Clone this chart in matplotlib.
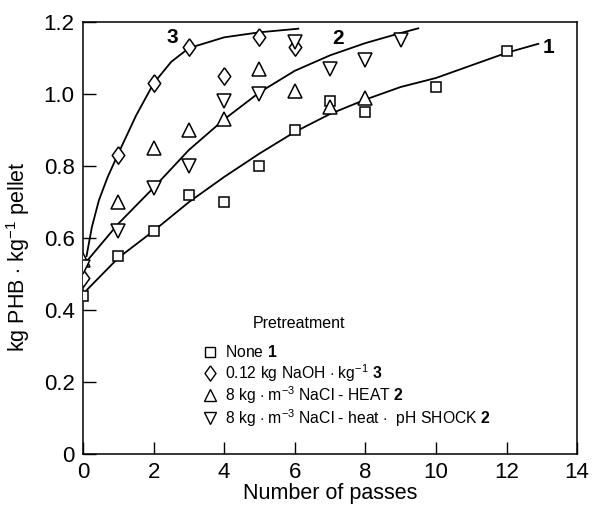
import matplotlib
matplotlib.use('Agg')
import matplotlib.pyplot as plt

plt.rcParams['font.family'] = ['Liberation Sans', 'DejaVu Sans']
plt.rcParams['mathtext.fontset'] = 'custom'
plt.rcParams['mathtext.rm'] = 'Liberation Sans'
plt.rcParams['mathtext.bf'] = 'Liberation Sans:bold'

# measured points
x_none = [0, 1, 2, 3, 4, 5, 6, 7, 8, 10, 12]
y_none = [0.44, 0.55, 0.62, 0.72, 0.70, 0.80, 0.90, 0.98, 0.95, 1.02, 1.12]

x_naoh = [0, 1, 2, 3, 4, 5, 6]
y_naoh = [0.49, 0.83, 1.03, 1.13, 1.05, 1.16, 1.13]

x_heat = [0, 1, 2, 3, 4, 5, 6, 7, 8]
y_heat = [0.54, 0.70, 0.85, 0.90, 0.93, 1.07, 1.01, 0.965, 0.99]

x_shock = [0, 1, 2, 3, 4, 5, 6, 7, 8, 9]
y_shock = [0.52, 0.62, 0.74, 0.80, 0.98, 1.00, 1.145, 1.07, 1.095, 1.15]

# fitted curves
cx1 = [0.1, 1, 2, 3, 4, 5, 6, 7, 8, 9, 10, 11, 12, 12.9]
cy1 = [0.455, 0.545, 0.62, 0.70, 0.77, 0.835, 0.895, 0.945, 0.985, 1.02, 1.045, 1.08, 1.115, 1.14]

cx2 = [0.1, 1, 2, 3, 4, 5, 6, 7, 8, 9, 9.5]
cy2 = [0.535, 0.64, 0.74, 0.845, 0.93, 1.005, 1.065, 1.108, 1.142, 1.17, 1.183]

cx3 = [0.1, 0.25, 0.45, 0.7, 1, 1.5, 2, 2.5, 3, 4, 5, 6.1]
cy3 = [0.55, 0.63, 0.705, 0.77, 0.835, 0.94, 1.03, 1.09, 1.128, 1.158, 1.172, 1.182]

diamond = [(0, 1), (0.72, 0), (0, -1), (-0.72, 0), (0, 1)]

fig = plt.figure(figsize=(5.95, 5.05), dpi=100)
ax = fig.add_axes([0.1395, 0.101, 0.8305, 0.855])

for cx, cy in [(cx1, cy1), (cx2, cy2), (cx3, cy3)]:
    ax.plot(cx, cy, color='black', lw=1.3, zorder=2)

mk = dict(linestyle='none', mfc='white', mec='black', mew=1.1, zorder=3)
ax.plot(x_none, y_none, marker='s', ms=7.5, **mk)
ax.plot(x_naoh, y_naoh, marker=diamond, ms=12.5, **mk)
ax.plot(x_heat, y_heat, marker='^', ms=9.5, **mk)
ax.plot(x_shock, y_shock, marker='v', ms=9.5, **mk)

ax.text(2.52, 1.158, '3', fontsize=15, fontweight='bold', ha='center', va='center')
ax.text(7.22, 1.156, '2', fontsize=15, fontweight='bold', ha='center', va='center')
ax.text(13.2, 1.13, '1', fontsize=15, fontweight='bold', ha='center', va='center')

# legend drawn by hand
ax.text(6.12, 0.364, 'Pretreatment', fontsize=11.5, ha='center', va='center')
leg_y = [0.283, 0.225, 0.164, 0.100]
leg_m = [('s', 7), (diamond, 11), ('^', 9), ('v', 9)]
leg_t = ['None $\\mathbf{1}$',
         '0.12 kg NaOH $\\cdot$ kg$^{-1}$ $\\mathbf{3}$',
         '8 kg $\\cdot$ m$^{-3}$ NaCl - HEAT $\\mathbf{2}$',
         '8 kg $\\cdot$ m$^{-3}$ NaCl - heat $\\cdot$  pH SHOCK $\\mathbf{2}$']
for yy, (m, s), t in zip(leg_y, leg_m, leg_t):
    ax.plot([3.6], [yy], marker=m, ms=s, mfc='white', mec='black', mew=1.0)
    ax.text(4.02, yy, t, fontsize=11.3, ha='left', va='center')

ax.set_xlim(0, 14)
ax.set_ylim(0, 1.2)
ax.set_xticks(range(0, 15, 2))
ax.set_yticks([0, 0.2, 0.4, 0.6, 0.8, 1.0, 1.2])
ax.set_yticklabels(['0', '0.2', '0.4', '0.6', '0.8', '1.0', '1.2'])
ax.tick_params(direction='in', length=9, width=1, labelsize=16, pad=6)
for s in ax.spines.values():
    s.set_linewidth(1.1)

ax.set_xlabel('Number of passes', fontsize=15.5, labelpad=0)
ax.set_ylabel('kg PHB $\\cdot$ kg$^{-1}$ pellet', fontsize=15.5)
ax.yaxis.set_label_coords(-0.103, 0.458)

fig.savefig('out.png', dpi=100)
